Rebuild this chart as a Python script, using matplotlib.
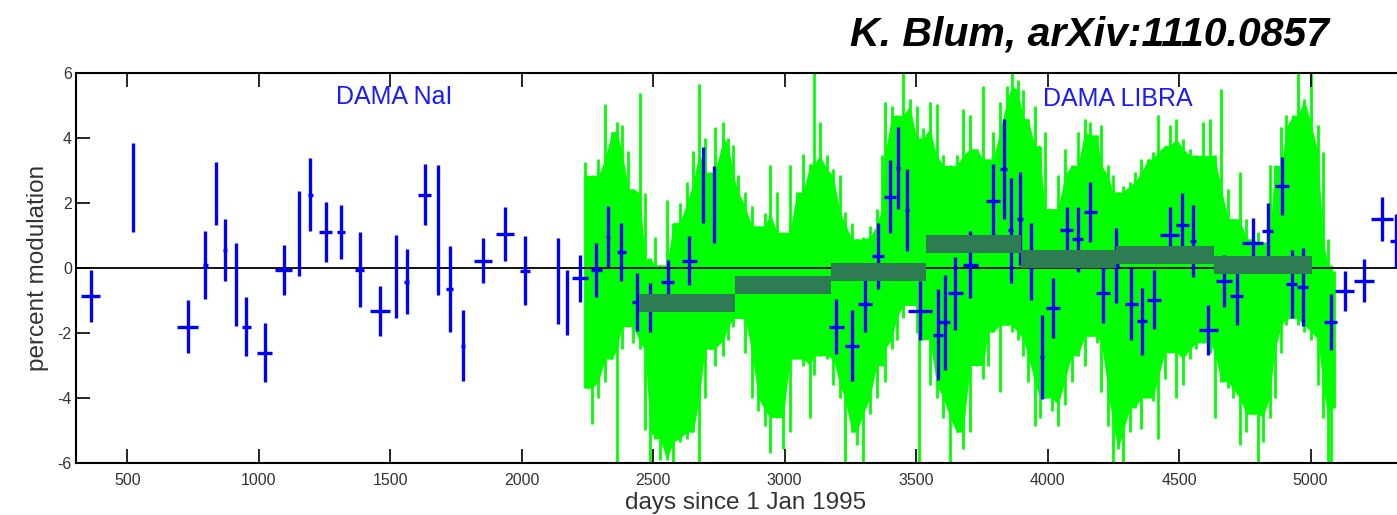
import numpy as np
import matplotlib.pyplot as plt

plt.rcParams['font.family'] = ['Liberation Sans', 'DejaVu Sans']
plt.rcParams['axes.unicode_minus'] = False

# binned residuals, DAMA NaI + DAMA/LIBRA (blue crosses)
days = [361, 523, 730, 797, 838, 871, 913, 953, 1022, 1095, 1154, 1196, 1254, 1313,
        1384, 1461, 1522, 1562, 1631, 1683, 1726, 1776, 1852, 1937, 2013, 2139, 2174,
        2223, 2284, 2328, 2379, 2439, 2487, 2556, 2638, 2690, 2731,
        3197, 3255, 3305, 3355, 3400, 3431, 3464, 3515, 3582, 3608, 3649, 3706, 3792,
        3833, 3859, 3894, 3936, 3979, 4021, 4072, 4114, 4163, 4211, 4262, 4319, 4359,
        4404, 4464, 4513, 4554, 4611, 4671, 4719, 4780, 4837, 4890, 4928, 4970, 5077,
        5130, 5204, 5272, 5324]
modulation = [-0.85, 2.48, -1.80, 0.10, 2.30, 0.55, -0.50, -1.80, -2.60, -0.05, 1.07, 2.26, 1.10, 1.10,
              -0.05, -1.31, -0.25, -0.42, 2.26, 1.18, -0.65, -2.39, 0.23, 1.05, -0.08, -0.39, -1.06,
              -0.32, -0.05, 0.97, 0.50, -1.04, -1.22, -0.42, 0.23, 2.57, 1.95,
              -1.80, -2.39, -1.11, 0.36, 2.20, 3.08, 1.78, -1.31, -2.05, -1.67, -0.78, 0.10, 2.05,
              3.05, 1.16, 1.52, 0.20, -2.74, -1.23, 1.16, 0.88, 1.72, -0.77, 0.08, -1.10, -1.64,
              -0.97, 1.02, 1.33, 0.84, -1.91, -0.39, -0.85, 0.76, 1.15, 2.53, -0.49, -0.59, -1.67,
              -0.70, -0.39, 1.51, 0.84]
mod_err = [0.80, 1.38, 0.81, 1.04, 0.97, 0.96, 1.27, 0.90, 0.90, 0.77, 1.31, 1.13, 0.92, 0.83,
           1.15, 0.77, 1.28, 1.00, 0.93, 2.00, 1.33, 1.10, 0.70, 0.84, 1.07, 1.33, 1.00,
           0.73, 0.83, 0.94, 0.90, 0.89, 0.76, 0.66, 0.76, 1.17, 1.18,
           0.86, 1.09, 0.86, 1.02, 1.12, 1.25, 1.26, 0.90, 1.40, 1.47, 1.13, 1.03, 1.15,
           1.55, 1.62, 1.44, 1.18, 1.28, 0.92, 0.72, 1.00, 0.92, 0.92, 1.15, 1.10, 1.03,
           0.92, 0.85, 0.99, 1.10, 0.77, 0.80, 0.89, 0.77, 0.84, 0.90, 1.04, 1.20, 0.86,
           0.62, 0.66, 0.68, 0.82]
bin_half = [37, 0, 40, 10, 0, 8, 0, 17, 29, 33, 0, 9, 25, 16,
            18, 38, 0, 9, 25, 0, 14, 7, 34, 34, 20, 0, 0,
            30, 22, 8, 16, 21, 0, 25, 28, 0, 0,
            28, 27, 27, 23, 24, 8, 8, 47, 19, 22, 28, 28, 28,
            14, 10, 12, 0, 8, 27, 25, 22, 25, 27, 10, 24, 19,
            27, 35, 25, 12, 36, 30, 25, 39, 21, 27, 20, 20, 24,
            37, 37, 41, 20]

# daily DAMA/LIBRA residuals (green), spike extremes read every ~25 days
green_days = [2241, 2267, 2292, 2317, 2343, 2362, 2381, 2406, 2425, 2450, 2469, 2488, 2507, 2526,
              2552, 2577, 2602, 2628, 2653, 2675, 2697, 2716, 2735, 2767, 2786, 2805, 2824, 2850,
              2875, 2900, 2926, 2945, 2970, 2995, 3020, 3046, 3071, 3096, 3112, 3134, 3160, 3185,
              3210, 3229, 3255, 3274, 3299, 3324, 3350, 3369, 3381, 3407, 3426, 3451, 3476, 3502,
              3511, 3527, 3552, 3578, 3603, 3628, 3654, 3679, 3705, 3730, 3755, 3774, 3793, 3818,
              3844, 3863, 3888, 3907, 3926, 3951, 3970, 3989, 4015, 4040, 4065, 4091, 4116, 4141,
              4160, 4186, 4205, 4230, 4249, 4268, 4287, 4313, 4332, 4357, 4382, 4401, 4420, 4446,
              4464, 4490, 4515, 4540, 4566, 4591, 4616, 4635, 4661, 4686, 4705, 4730, 4756, 4775,
              4800, 4819, 4844, 4863, 4889, 4908, 4933, 4952, 4977, 5003, 5028, 5047, 5066, 5078,
              5091]
green_hi = [3.26, 2.85, 3.36, 5.06, 4.20, 4.50, 4.40, 3.60, 2.44, 5.40, 2.30, 0.30, 0.95, 0.10,
            2.10, 1.40, 2.00, 2.65, 3.60, 5.67, 4.00, 2.95, 4.35, 4.50, 4.00, 3.80, 2.85, 2.34,
            1.90, 1.30, 1.70, 3.16, 2.34, 1.10, 3.16, 2.34, 3.50, 3.20, 6.00, 4.50, 3.47, 3.06,
            2.85, 1.72, 1.40, 0.90, 0.95, 1.30, 1.83, 3.47, 5.10, 5.00, 4.70, 6.00, 5.20, 5.00,
            4.00, 4.30, 5.10, 5.06, 3.47, 3.16, 3.47, 4.90, 4.70, 3.67, 5.60, 3.36, 4.20, 5.10,
            5.60, 6.00, 5.80, 5.47, 4.60, 5.00, 3.77, 4.20, 1.83, 2.85, 3.67, 3.16, 4.20, 4.60,
            4.50, 4.10, 4.40, 3.16, 2.85, 2.34, 2.54, 2.65, 2.95, 3.36, 3.36, 3.57, 4.70, 3.77,
            4.40, 4.60, 3.98, 3.67, 3.47, 4.50, 4.60, 3.47, 5.50, 2.44, 1.52, 2.95, 1.52, 0.90,
            1.10, 0.80, 3.16, 3.16, 4.35, 4.70, 4.70, 6.00, 5.20, 6.00, 4.40, 3.57, 0.90, 0.10,
            -0.10]
green_lo = [-3.70, -4.80, -4.00, -3.50, -2.80, -6.00, -2.50, -1.80, -2.30, -2.50, -5.00, -6.00, -5.25, -5.90,
            -5.90, -6.00, -5.35, -5.25, -5.05, -6.00, -4.00, -2.50, -3.00, -2.70, -2.20, -1.80, -1.55, -2.60,
            -4.00, -4.40, -4.85, -5.70, -4.60, -5.56, -5.05, -2.80, -3.00, -4.60, -3.30, -2.70, -2.80, -3.60,
            -4.00, -6.00, -5.05, -5.45, -6.00, -4.50, -4.00, -3.00, -3.50, -2.50, -2.20, -1.55, -1.15, -2.00,
            -6.00, -2.20, -3.60, -4.00, -4.60, -6.00, -5.05, -5.56, -5.05, -3.00, -3.40, -3.00, -1.97, -3.80,
            -1.76, -1.97, -2.20, -2.70, -3.50, -4.85, -4.60, -4.00, -4.40, -4.85, -4.20, -3.50, -2.70, -3.00,
            -2.10, -2.30, -3.80, -4.85, -6.00, -5.56, -6.00, -5.05, -4.30, -4.95, -4.00, -4.10, -5.25, -3.40,
            -2.60, -4.00, -3.60, -2.80, -2.50, -2.30, -2.60, -4.60, -3.50, -3.70, -4.00, -5.45, -5.05, -4.50,
            -6.00, -5.35, -4.60, -4.00, -2.60, -1.76, -1.55, -1.76, -1.97, -2.20, -3.60, -4.60, -6.00, -6.00,
            -4.30]

# yearly averages (dark green blocks)
avg_start = [2447, 2810, 3177, 3539, 3899, 4262, 4634]
avg_end = [2810, 3177, 3539, 3899, 4262, 4634, 5004]
avg_level = [-1.08, -0.51, -0.13, 0.74, 0.27, 0.40, 0.09]

fig = plt.figure(figsize=(13.97, 5.15), dpi=100)
ax = fig.add_axes([0.0544, 0.101, 0.959, 0.757])

# solid core of the green band: lowest spike tip among neighbouring readings
hi = np.array(green_hi)
lo = np.array(green_lo)
hp = np.pad(hi, 1, mode='edge')
lp = np.pad(lo, 1, mode='edge')
core_hi = np.minimum(np.minimum(hp[:-2], hp[1:-1]), hp[2:])
core_lo = np.maximum(np.maximum(lp[:-2], lp[1:-1]), lp[2:])
ax.fill_between(green_days, core_lo, core_hi, color='#00ff00', lw=0, zorder=1)
ax.vlines(green_days, lo, hi, color='#00ff00', lw=2.0, zorder=1)

ax.axhline(0, color='black', lw=1.3, zorder=2)

ax.errorbar(days, modulation, yerr=mod_err, xerr=bin_half, fmt='none',
            ecolor='#0000ff', elinewidth=2.4, capsize=0, zorder=3)

half = 0.28
ax.bar(avg_start, 2 * half, width=np.subtract(avg_end, avg_start),
       bottom=np.array(avg_level) - half, align='edge', color='#2e7d52', lw=0, zorder=4)

ax.text(1293, 5.25, 'DAMA NaI', color='#1a1aff', fontsize=18, va='center')
ax.text(3983, 5.19, 'DAMA LIBRA', color='#1a1aff', fontsize=18, va='center')

ax.set_xlim(305, 5400)
ax.set_ylim(-6, 6)
ax.set_xticks([500, 1000, 1500, 2000, 2500, 3000, 3500, 4000, 4500, 5000])
ax.set_yticks([-6, -4, -2, 0, 2, 4, 6])
ax.tick_params(direction='in', length=10, width=1.2, top=True, right=False,
               labelsize=11.5, labelcolor='#333333')
ax.tick_params(axis='x', pad=7)
ax.tick_params(axis='y', pad=3)
for side in ['left', 'top', 'bottom']:
    ax.spines[side].set_linewidth(1.5)
ax.spines['right'].set_visible(False)

ax.set_xlabel('days since 1 Jan 1995', fontsize=17.5, color='#333333', labelpad=3)
ax.set_ylabel('percent modulation', fontsize=17.5, color='#333333', labelpad=6)

fig.text(850 / 1397, 1 - 45 / 515, 'K. Blum, arXiv:1110.0857', fontsize=29.5,
         fontweight='bold', fontstyle='italic', ha='left', va='baseline')

fig.savefig('out.png', dpi=100)
